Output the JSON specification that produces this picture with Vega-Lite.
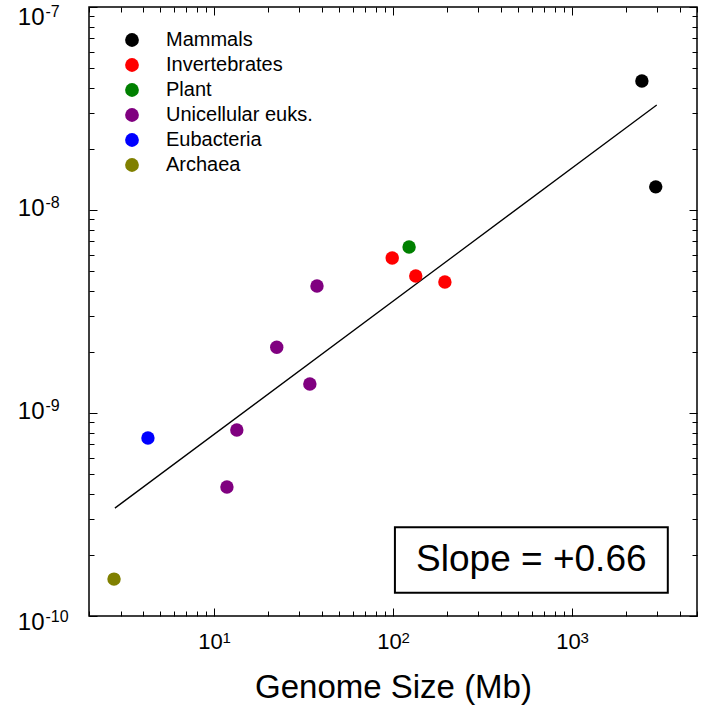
{
  "$schema": "https://vega.github.io/schema/vega-lite/v6.json",
  "width": 608,
  "height": 609,
  "autosize": "none",
  "padding": {"left": 89, "top": 7, "right": 5, "bottom": 91},
  "background": "white",
  "datasets": {
    "pts": [
      {"g": 2460, "m": 4.32e-8, "group": "Mammals"},
      {"g": 2940, "m": 1.30e-8, "group": "Mammals"},
      {"g": 99, "m": 5.8e-9, "group": "Invertebrates"},
      {"g": 134, "m": 4.73e-9, "group": "Invertebrates"},
      {"g": 195, "m": 4.42e-9, "group": "Invertebrates"},
      {"g": 123, "m": 6.57e-9, "group": "Plant"},
      {"g": 37.6, "m": 4.22e-9, "group": "Unicellular euks."},
      {"g": 22.4, "m": 2.11e-9, "group": "Unicellular euks."},
      {"g": 34.3, "m": 1.39e-9, "group": "Unicellular euks."},
      {"g": 13.4, "m": 8.24e-10, "group": "Unicellular euks."},
      {"g": 11.8, "m": 4.32e-10, "group": "Unicellular euks."},
      {"g": 4.27, "m": 7.53e-10, "group": "Eubacteria"},
      {"g": 2.76, "m": 1.52e-10, "group": "Archaea"}
    ],
    "fit": [
      {"g": 2.79, "m": 3.40e-10},
      {"g": 2978, "m": 3.29e-8}
    ],
    "box": [
      {"g": 102.5, "g2": 3434, "m": 2.74e-10, "m2": 1.30e-10, "label": "Slope = +0.66", "gc": 593, "mc": 1.89e-10}
    ]
  },
  "layer": [
    {
      "encoding": {
        "x": {
          "field": "g", "type": "quantitative",
          "scale": {"type": "log", "domain": [2, 5000], "nice": false, "zero": false},
          "axis": {
            "orient": "bottom",
            "title": "Genome Size (Mb)",
            "titleFontSize": 33,
            "titleFontWeight": "normal",
            "titlePadding": 16,
            "values": [2,3,4,5,6,7,8,9,10,20,30,40,50,60,70,80,90,100,200,300,400,500,600,700,800,900,1000,2000,3000,4000,5000],
            "labelExpr": "datum.value == 10 || datum.value == 100 || datum.value == 1000 ? '10' : ''",
            "labelFontSize": 22,
            "labelPadding": 23,
            "labelOffset": -4,
            "tickSize": {"condition": {"test": "datum.value == 10 || datum.value == 100 || datum.value == 1000", "value": -8}, "value": -5},
            "labelFlush": false,
            "labelOverlap": false
          }
        },
        "y": {
          "field": "m", "type": "quantitative",
          "scale": {"type": "log", "domain": [1e-10, 1e-7], "nice": false, "zero": false},
          "axis": {
            "orient": "left",
            "title": null,
            "values": [1e-10,2e-10,3e-10,4e-10,5e-10,6e-10,7e-10,8e-10,9e-10,1e-9,2e-9,3e-9,4e-9,5e-9,6e-9,7e-9,8e-9,9e-9,1e-8,2e-8,3e-8,4e-8,5e-8,6e-8,7e-8,8e-8,9e-8,1e-7],
            "labelExpr": "abs(log(datum.value)/LN10 - round(log(datum.value)/LN10)) < 0.001 ? '10' : ''",
            "labelFontSize": 24,
            "labelPadding": 53,
            "labelAlign": "right",
            "labelBaseline": "middle",
            "labelOffset": {"condition": [{"test": "datum.value > 5e-8", "value": 10}, {"test": "datum.value < 1.5e-10", "value": 6}], "value": -2},
            "tickSize": {"condition": {"test": "abs(log(datum.value)/LN10 - round(log(datum.value)/LN10)) < 0.001", "value": -8}, "value": -5},
            "labelFlush": false,
            "labelOverlap": false
          }
        }
      },
      "layer": [
        {
          "data": {"name": "fit"},
          "mark": {"type": "line", "color": "black", "strokeWidth": 1.3}
        },
        {
          "data": {"name": "pts"},
          "mark": {"type": "circle", "size": 180, "opacity": 1},
          "encoding": {
            "color": {
              "field": "group", "type": "nominal",
              "scale": {
                "domain": ["Mammals", "Invertebrates", "Plant", "Unicellular euks.", "Eubacteria", "Archaea"],
                "range": ["#000000", "#ff0000", "#008000", "#800080", "#0000ff", "#808000"]
              },
              "legend": {
                "title": null,
                "orient": "none",
                "legendX": 33,
                "legendY": 23,
                "labelFontSize": 20,
                "labelColor": "#000",
                "symbolSize": 190,
                "symbolType": "circle",
                "symbolStrokeWidth": 0,
                "symbolOpacity": 1,
                "rowPadding": 5,
                "labelOffset": 24,
                "padding": 0
              }
            }
          }
        },
        {
          "data": {"name": "box"},
          "mark": {"type": "rect", "fill": "white", "stroke": "black", "strokeWidth": 2},
          "encoding": {
            "x2": {"field": "g2"},
            "y2": {"field": "m2"}
          }
        },
        {
          "data": {"name": "box"},
          "mark": {"type": "text", "fontSize": 37, "color": "black", "align": "center", "baseline": "middle"},
          "encoding": {
            "x": {"field": "gc", "type": "quantitative"},
            "y": {"field": "mc", "type": "quantitative"},
            "text": {"field": "label"}
          }
        }
      ]
    },
    {
      "data": {"name": "fit"},
      "mark": {"type": "point", "opacity": 0},
      "encoding": {
        "x": {
          "field": "g", "type": "quantitative",
          "scale": {"type": "log", "domain": [2, 5000], "nice": false, "zero": false},
          "axis": {
            "orient": "top", "title": null, "labels": false,
            "tickSize": {"condition": {"test": "datum.value == 10 || datum.value == 100 || datum.value == 1000", "value": -8}, "value": -5},
            "values": [2,3,4,5,6,7,8,9,10,20,30,40,50,60,70,80,90,100,200,300,400,500,600,700,800,900,1000,2000,3000,4000,5000]
          }
        },
        "y": {
          "field": "m", "type": "quantitative",
          "scale": {"type": "log", "domain": [1e-10, 1e-7], "nice": false, "zero": false},
          "axis": {
            "orient": "right", "title": null, "labels": false,
            "tickSize": {"condition": {"test": "abs(log(datum.value)/LN10 - round(log(datum.value)/LN10)) < 0.001", "value": -8}, "value": -5},
            "values": [1e-10,2e-10,3e-10,4e-10,5e-10,6e-10,7e-10,8e-10,9e-10,1e-9,2e-9,3e-9,4e-9,5e-9,6e-9,7e-9,8e-9,9e-9,1e-8,2e-8,3e-8,4e-8,5e-8,6e-8,7e-8,8e-8,9e-8,1e-7]
          }
        }
      }
    },
    {
      "data": {"name": "fit"},
      "mark": {"type": "point", "opacity": 0},
      "encoding": {
        "x": {
          "field": "g", "type": "quantitative",
          "scale": {"type": "log", "domain": [2, 5000], "nice": false, "zero": false},
          "axis": {
            "orient": "bottom", "title": null, "ticks": false,
            "values": [10, 100, 1000],
            "labelExpr": "datum.value == 10 ? '1' : datum.value == 100 ? '2' : '3'",
            "labelFontSize": 15,
            "labelAlign": "left",
            "labelOffset": 8,
            "labelPadding": 14,
            "labelFlush": false,
            "labelOverlap": false
          }
        },
        "y": {
          "field": "m", "type": "quantitative",
          "scale": {"type": "log", "domain": [1e-10, 1e-7], "nice": false, "zero": false},
          "axis": {
            "orient": "left", "title": null, "ticks": false,
            "values": [1e-10, 1e-9, 1e-8, 1e-7],
            "labelExpr": "datum.value > 5e-8 ? '-7' : datum.value > 5e-9 ? '-8' : datum.value > 5e-10 ? '-9' : '-10'",
            "labelFontSize": 16,
            "labelAlign": "left",
            "labelBaseline": "middle",
            "labelPadding": 44,
            "labelOffset": {"condition": [{"test": "datum.value > 5e-8", "value": 4}, {"test": "datum.value < 1.5e-10", "value": 0}], "value": -8},
            "labelFlush": false,
            "labelOverlap": false
          }
        }
      }
    }
  ],
  "resolve": {
    "scale": {"x": "independent", "y": "independent"},
    "axis": {"x": "independent", "y": "independent"}
  },
  "config": {
    "font": "Liberation Sans",
    "view": {"stroke": "#000", "strokeWidth": 1.5},
    "axis": {
      "grid": false,
      "domain": false,
      "labelColor": "#000",
      "titleColor": "#000",
      "tickColor": "#000",
      "tickWidth": 1,
      "labelFont": "Liberation Sans",
      "titleFont": "Liberation Sans"
    },
    "legend": {"labelFont": "Liberation Sans"}
  }
}
